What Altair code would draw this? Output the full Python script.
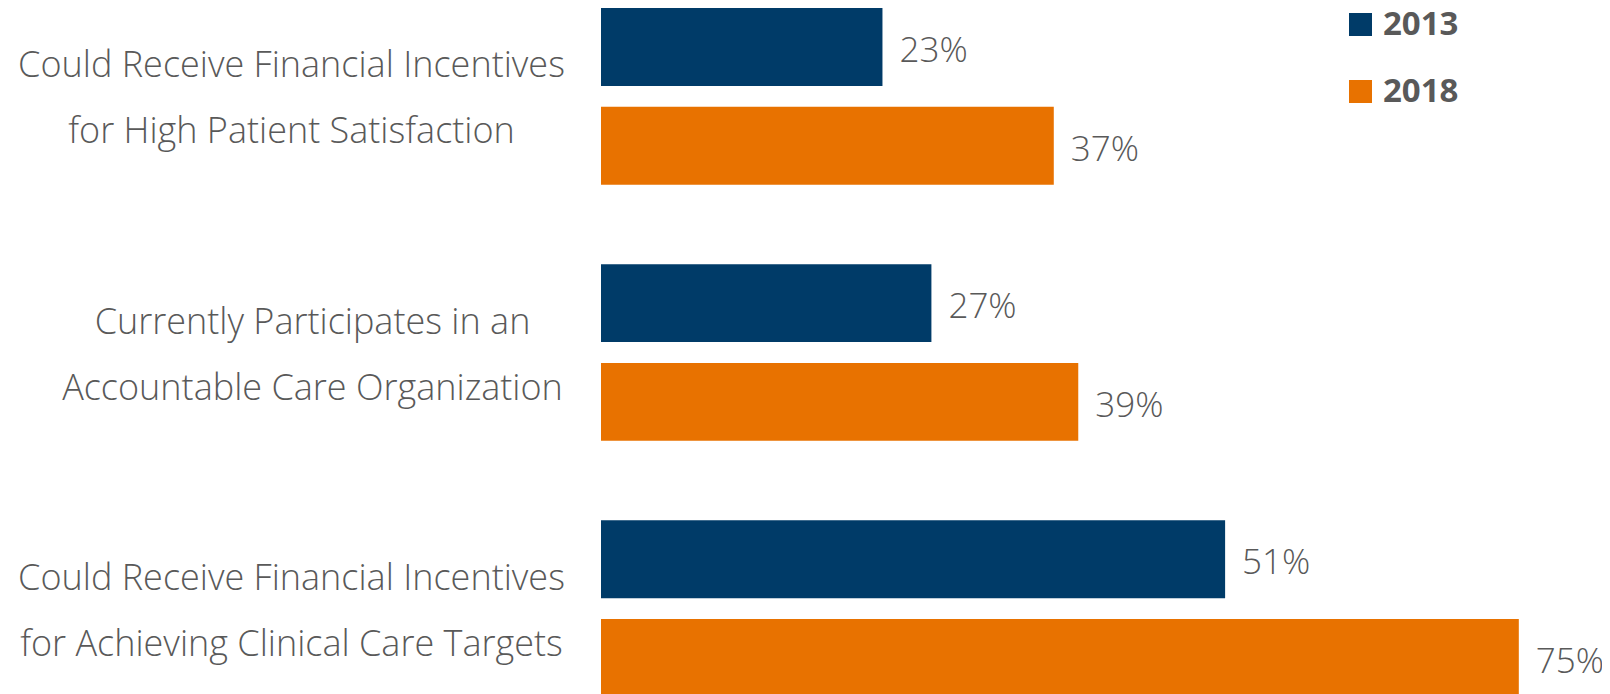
import altair as alt
import pandas as pd

# ---- data ----
cat_line1 = [
    "Could Receive Financial Incentives",
    "Currently Participates in an",
    "Could Receive Financial Incentives",
]
cat_line2 = [
    "for High Patient Satisfaction",
    "Accountable Care Organization",
    "for Achieving Clinical Care Targets",
]
years = ["2013", "2018"]
values_2013 = [23, 27, 51]
values_2018 = [37, 39, 75]
colors = ["#003B68", "#E87200"]

categories = [a + "|" + b for a, b in zip(cat_line1, cat_line2)]
rows = []
for c, v13, v18 in zip(categories, values_2013, values_2018):
    rows.append({"category": c, "year": "2013", "value": v13})
    rows.append({"category": c, "year": "2018", "value": v18})
df = pd.DataFrame(rows)

FONT = "Open Sans"
GRAY = "#595959"

mid_label = categories[1]

y_enc = alt.Y(
    "category:N",
    sort=categories,
    scale=alt.Scale(paddingInner=0.31, paddingOuter=0),
    axis=alt.Axis(
        title=None,
        domain=False,
        ticks=False,
        grid=False,
        labelExpr="split(datum.label, '|')",
        labelAlign="center",
        labelBaseline="middle",
        labelOffset=-30,
        labelPadding={
            "condition": {"test": f"datum.value === '{mid_label}'", "value": 289},
            "value": 310,
        },
        labelFont=FONT,
        labelFontSize=36,
        labelFontWeight=300,
        labelColor=GRAY,
        labelLineHeight=66,
        labelLimit=0,
    ),
)

base = alt.Chart(df).encode(
    y=y_enc,
    yOffset=alt.YOffset("year:N", sort=years, scale=alt.Scale(paddingInner=0.212, paddingOuter=0)),
    x=alt.X("value:Q", scale=alt.Scale(domain=[0, 80], nice=False), axis=None),
)

bars = base.mark_bar().encode(
    color=alt.Color(
        "year:N",
        sort=years,
        scale=alt.Scale(domain=years, range=colors),
        legend=alt.Legend(
            title=None,
            orient="none",
            legendX=743,
            legendY=0,
            symbolType="square",
            symbolSize=529,
            symbolStrokeWidth=0,
            labelFont=FONT,
            labelFontSize=33,
            labelFontWeight="bold",
            labelColor=GRAY,
            labelOffset=6,
            rowPadding=33,
            padding=0,
        ),
    )
)

labels = base.mark_text(
    align="left",
    baseline="middle",
    dx=17,
    dy=4,
    font=FONT,
    fontSize=35,
    fontWeight=300,
    color=GRAY,
).encode(text=alt.Text("label:N")).transform_calculate(label="datum.value + '%'")

chart = (
    alt.layer(bars, labels)
    .properties(
        width=979,
        height=689,
        autosize=alt.AutoSizeParams(type="none"),
        padding={"left": 593, "top": 0, "right": 22, "bottom": -3},
    )
    .configure_view(strokeWidth=0)
)

chart.save("out.html", embed_options={"renderer": "svg", "actions": False})
